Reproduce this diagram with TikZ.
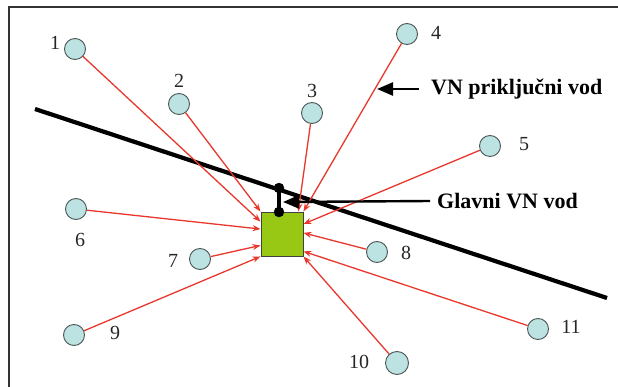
\documentclass[tikz,border=0pt]{standalone}
\usepackage{fontspec}
\setmainfont{Liberation Serif}
\usetikzlibrary{arrows.meta}
\definecolor{wirered}{HTML}{E8372C}
\definecolor{tsfill}{HTML}{99C814}
\definecolor{consfill}{HTML}{BDE2E2}
\definecolor{consline}{HTML}{4A5555}
\tikzset{
    consumer/.style={circle, draw=consline, fill=consfill, line width=0.9pt, minimum size=21pt, inner sep=0pt},
    num/.style={text=black!85, font=\fontsize{20}{24}\selectfont, inner sep=0pt},
    tag/.style={font=\fontsize{22}{26}\selectfont\bfseries, inner sep=0pt, anchor=west},
    wire/.style={draw=wirered, line width=1.3pt, -{Stealth[length=8pt,width=6pt]}},
    pointer/.style={line width=2.4pt, -{Triangle[length=16pt,width=13pt]}}
}
\begin{document}
\begin{tikzpicture}[x=1pt, y=-1pt]
    \useasboundingbox (0,0) rectangle (618,387);
    % Frame (top and left edge only)
    \draw[black!80, line width=1.4pt] (618,7) -- (9,7) -- (9,387);

    % Main MV line
    \coordinate (ga) at (35,109);
    \coordinate (gb) at (607,298);
    \draw[line width=4.2pt] (ga) -- (gb);

    % Substation
    \node[draw=black!75, fill=tsfill, line width=0.9pt, minimum width=42pt, minimum height=44pt, inner sep=0pt] (sq) at (282,234) {};

    % Connection pole from the line to the substation
    \coordinate (ptop) at (279,188);
    \coordinate (pbot) at (279,212);
    \draw[line width=3.6pt] (ptop) -- (pbot);
    \filldraw (ptop) circle (5pt);
    \filldraw (pbot) circle (5pt);

    % Consumers
    \node[consumer] (c1) at (75,49) {};
    \node[consumer] (c2) at (179,104) {};
    \node[consumer] (c3) at (312,113) {};
    \node[consumer] (c4) at (407,34) {};
    \node[consumer] (c5) at (490,146) {};
    \node[consumer] (c6) at (76,209) {};
    \node[consumer] (c7) at (200,259) {};
    \node[consumer] (c8) at (377,252) {};
    \node[consumer] (c9) at (74,335) {};
    \node[consumer, minimum width=20pt, minimum height=23pt] (c10) at (397,363) {};
    \node[consumer] (c11) at (538,329) {};

    % Numbers
    \node[num] (n1) at (55,43) {1};
    \node[num] (n2) at (179,81) {2};
    \node[num] (n3) at (312,91) {3};
    \node[num] (n4) at (436,33) {4};
    \node[num] (n5) at (524,144) {5};
    \node[num] (n6) at (80,240) {6};
    \node[num] (n7) at (173,261) {7};
    \node[num] (n8) at (406,253) {8};
    \node[num] (n9) at (115,333) {9};
    \node[num] (n10) at (359,362) {10};
    \node[num] (n11) at (571,327) {11};

    % MV connection lines
    \draw[wire] (c1) -- (sq.150);
    \draw[wire] (c2) -- (sq.north west);
    \draw[wire] (c3) -- (sq.54);
    \draw[wire] (c4) -- (sq.north east);
    \draw[wire] (c5) -- (sq.25);
    \draw[wire] (c6) -- (sq.167);
    \draw[wire] (c7) -- (sq.208);
    \draw[wire] (c8) -- (sq.3);
    \draw[wire] (c9) -- (sq.south west);
    \draw[wire] (c10) -- (sq.south east);
    \draw[wire] (c11) -- (sq.321);

    % Labels with pointers
    \node[tag] (vnp) at (431,89) {VN priključni vod};
    \coordinate (vnptip) at (377,89);
    \draw[pointer] ([xshift=-12pt]vnp.west) -- (vnptip);

    \node[tag] (glv) at (437,201) {Glavni VN vod};
    \coordinate (glvtip) at (283,202);
    \draw[pointer] ([xshift=-7pt]glv.west) -- (glvtip);
\end{tikzpicture}
\end{document}
